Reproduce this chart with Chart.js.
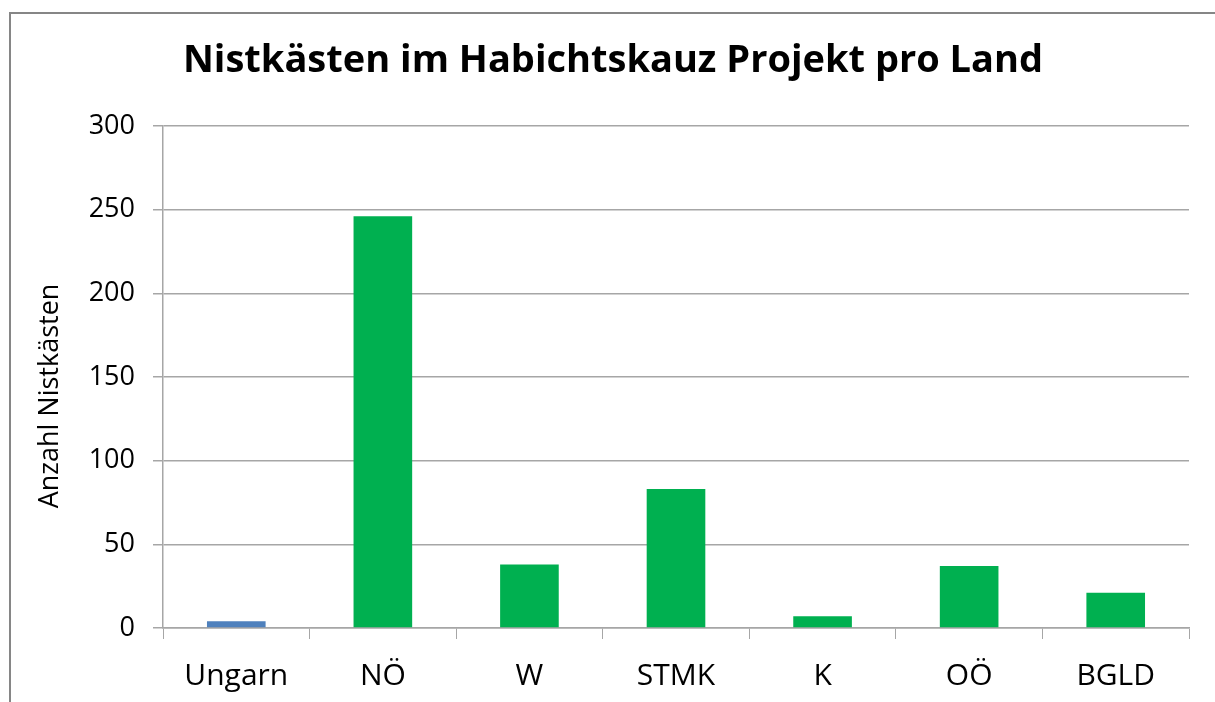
<!DOCTYPE html>
<html>
<head>
<meta charset="utf-8">
<script src="https://cdn.jsdelivr.net/npm/chart.js@4"></script>
<style>
  html, body { margin: 0; padding: 0; background: #fff; }
  #wrap { position: relative; width: 1215px; height: 702px; overflow: hidden; }
  #frame { position: absolute; left: 9px; top: 12px; width: 1300px; height: 800px;
           border-left: 2px solid #868686; border-top: 2px solid #868686; }
  canvas { position: absolute; left: 0; top: 0; }
</style>
</head>
<body>
<div id="wrap">
  <div id="frame"></div>
  <canvas id="chart" width="1215" height="702"></canvas>
</div>
<script>
const labels = ['Ungarn', 'NÖ', 'W', 'STMK', 'K', 'OÖ', 'BGLD'];
const values = [4, 246, 38, 83, 7, 37, 21];
const barColors = ['#4F81BD', '#00B050', '#00B050', '#00B050', '#00B050', '#00B050', '#00B050'];
const yTicks = [0, 50, 100, 150, 200, 250, 300];
const yTitle = 'Anzahl Nistkästen';

const font = "'Open Sans', sans-serif";
const gridColor = '#A6A6A6';

// y axis title, drawn a little below the middle of the axis as in the original
const yTitlePlugin = {
    id: 'yTitle',
    afterDraw(chart) {
        const c = chart.ctx;
        const area = chart.chartArea;
        c.save();
        c.translate(50, (area.top + area.bottom) / 2 + 19);
        c.rotate(-Math.PI / 2);
        c.fillStyle = '#000';
        c.font = "27px " + font;
        c.textAlign = 'center';
        c.textBaseline = 'middle';
        c.fillText(yTitle, 0, 0);
        c.restore();
    }
};

const ctx = document.getElementById('chart').getContext('2d');
new Chart(ctx, {
    type: 'bar',
    data: {
        labels: labels,
        datasets: [{
            label: 'Nistkästen',
            data: values,
            backgroundColor: barColors,
            barPercentage: 0.4,
            categoryPercentage: 1.0
        }]
    },
    options: {
        responsive: false,
        animation: false,
        layout: { padding: { left: 37, right: 26, top: 0, bottom: 0 } },
        plugins: {
            legend: { display: false },
            tooltip: { enabled: false },
            title: {
                display: true,
                text: 'Nistkästen im Habichtskauz Projekt pro Land',
                color: '#000',
                font: { family: font, size: 38, weight: 'bold', lineHeight: 1.2 },
                padding: { top: 38, bottom: 42.4 }
            }
        },
        scales: {
            x: {
                grid: { display: true, drawOnChartArea: false, color: gridColor, tickLength: 11, offset: true },
                border: { color: gridColor, width: 1.5 },
                ticks: { color: '#000', font: { family: font, size: 30 }, padding: 19 },
                afterFit: s => { s.height = 74; }
            },
            y: {
                min: 0,
                max: 300,
                afterBuildTicks: s => { s.ticks = yTicks.map(v => ({ value: v })); },
                grid: { color: gridColor, lineWidth: 1.5, tickLength: 10 },
                border: { color: gridColor, width: 1.5 },
                ticks: { color: '#000', font: { family: font, size: 27 }, padding: 18 },
                afterFit: s => { s.width = 126; }
            }
        }
    },
    plugins: [yTitlePlugin]
});
</script>
</body>
</html>
